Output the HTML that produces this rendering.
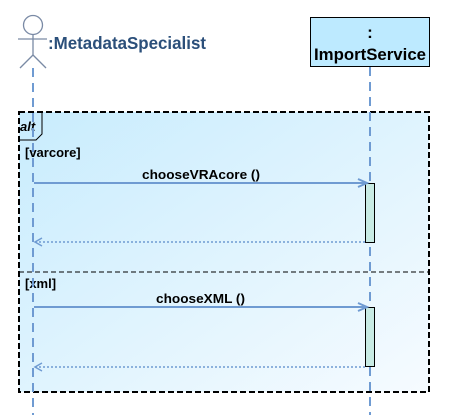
<!DOCTYPE html>
<html><head><style>body{margin:0;background:#fff}svg{display:block}text{font-family:"Liberation Sans",sans-serif}</style></head><body>
<svg width="469" height="415" xmlns="http://www.w3.org/2000/svg">
<defs><linearGradient id="g" x1="0" y1="0" x2="1" y2="1"><stop offset="0" stop-color="#c8ecfd"/><stop offset="1" stop-color="#f6fbff"/></linearGradient></defs>
<rect x="19" y="112" width="410" height="280" fill="url(#g)" stroke="#000" stroke-width="2" stroke-dasharray="6,3"/>
<line x1="19" y1="272" x2="429" y2="272" stroke="#000" stroke-width="1" stroke-dasharray="5,3"/>
<path d="M19 140 H36 L42 134 V112" fill="none" stroke="#000" stroke-width="1"/>
<text x="20" y="131" font-size="13" font-weight="bold" font-style="italic">alt</text>
<text x="25" y="157" font-size="13" font-weight="bold">[varcore]</text>
<text x="25" y="288" font-size="13" font-weight="bold">[xml]</text>
<line x1="33" y1="68" x2="33" y2="415" stroke="#6f9bd2" stroke-width="2" stroke-dasharray="9,6"/>
<line x1="370" y1="67" x2="370" y2="415" stroke="#6f9bd2" stroke-width="2" stroke-dasharray="9,6"/>
<g stroke="#7a8aa5" stroke-width="1.3" fill="#fff">
<circle cx="33" cy="25" r="9.5"/>
<line x1="18" y1="39" x2="47" y2="39"/>
<line x1="33" y1="35" x2="33" y2="55"/>
<line x1="33" y1="55" x2="20" y2="68"/>
<line x1="33" y1="55" x2="46" y2="68"/>
</g>
<text x="48" y="49" font-size="17.5" font-weight="bold" fill="#2b4f7a" textLength="158" lengthAdjust="spacingAndGlyphs">:MetadataSpecialist</text>
<rect x="310.5" y="17.5" width="119" height="49" fill="#bdeaff" stroke="#000"/>
<text x="370" y="38" font-size="17" font-weight="bold" text-anchor="middle">:</text>
<text x="370" y="60" font-size="17" font-weight="bold" text-anchor="middle" textLength="112" lengthAdjust="spacingAndGlyphs">ImportService</text>
<rect x="365.5" y="183.5" width="9" height="59" fill="#c8ebe4" stroke="#000"/>
<rect x="365.5" y="307.5" width="9" height="59" fill="#c8ebe4" stroke="#000"/>
<g stroke="#6f9bd2" stroke-width="2" fill="none">
<line x1="34" y1="183" x2="366" y2="183"/>
<path d="M358 179 L367 183 L358 187"/>
<line x1="34" y1="307" x2="366" y2="307"/>
<path d="M358 303 L367 307 L358 311"/>
</g>
<g stroke="#6f9bd2" stroke-width="1.5" fill="none" stroke-dasharray="2,2">
<line x1="35" y1="242" x2="365" y2="242"/>
<line x1="35" y1="367" x2="365" y2="367"/>
</g>
<g stroke="#6f9bd2" stroke-width="1.5" fill="none">
<path d="M42 238 L35 242 L42 246"/>
<path d="M42 363 L35 367 L42 371"/>
</g>
<text x="142" y="179" font-size="13" font-weight="bold" textLength="118" lengthAdjust="spacingAndGlyphs">chooseVRAcore ()</text>
<text x="156" y="303" font-size="13" font-weight="bold" textLength="89" lengthAdjust="spacingAndGlyphs">chooseXML ()</text>
</svg>
</body></html>
